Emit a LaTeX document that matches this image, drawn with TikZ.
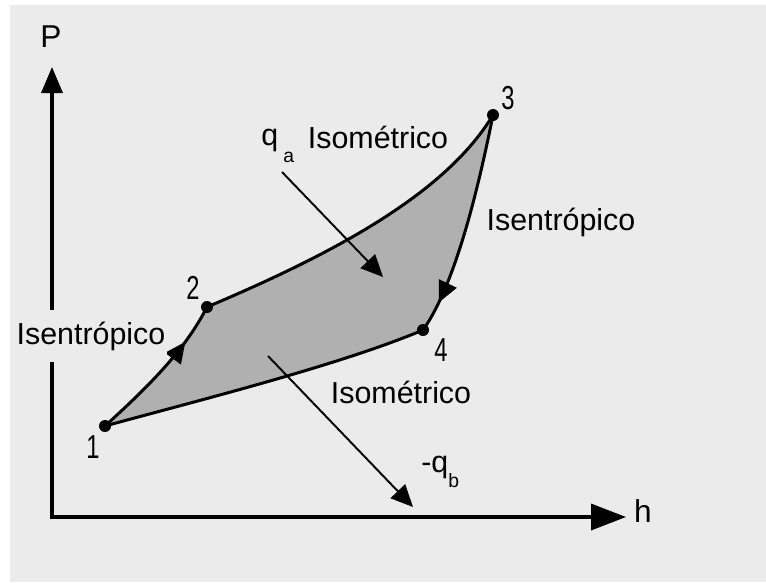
\documentclass[tikz,border=0pt]{standalone}
\usepackage{fontspec}
\setmainfont{Liberation Sans}
\usepackage{xcolor}
\usetikzlibrary{arrows.meta, decorations.markings}
\definecolor{paper}{RGB}{235,235,235}
\definecolor{cyclegray}{RGB}{176,176,176}
\newcommand{\narrownum}[1]{\scalebox{0.75}[1.05]{#1}}

\begin{document}
\begin{tikzpicture}[x=0.02cm, y=-0.02cm, font=\fontsize{17.3}{20}\selectfont,
  axis/.style={line width=2pt, line join=miter},
  cycleline/.style={line width=1.7pt, line join=round},
  heat/.style={line width=1.1pt, -{Triangle[length=0.44cm,width=0.4cm]}},
  midarrow/.style={postaction={decorate}, decoration={markings,
    mark=at position #1 with {\arrow{Triangle[length=0.42cm,width=0.38cm]}}}},
  statelbl/.style={font=\fontsize{18}{20}\selectfont}]
  \useasboundingbox (0,0) rectangle (766,582);
  \fill[paper] (10,5) rectangle (766,582);

  % axes
  \coordinate (origin) at (52,517);
  \coordinate (ptip) at (52,67);
  \coordinate (htip) at (626,517);
  \draw[axis, {Triangle[length=0.52cm,width=0.42cm]}-{Triangle[length=0.7cm,width=0.52cm]}]
    (ptip) -- (origin) -- (htip);
  \node[statelbl] (plbl) at (51,37) {P};
  \node[statelbl] (hlbl) at (643,511) {h};

  % states of the cycle
  \coordinate (p1) at (105,426);
  \coordinate (p2) at (207,307);
  \coordinate (p3) at (493,115);
  \coordinate (p4) at (423,330);

  \fill[cyclegray] (p1) .. controls (150,385) and (185,350) .. (p2)
    .. controls (330,255) and (445,195) .. (p3)
    .. controls (478,190) and (455,285) .. (p4)
    .. controls (340,365) and (200,400) .. (p1) -- cycle;
  \draw[cycleline, midarrow=0.74] (p1) .. controls (150,385) and (185,350) .. (p2);
  \draw[cycleline] (p2) .. controls (330,255) and (445,195) .. (p3);
  \draw[cycleline, midarrow=0.86] (p3) .. controls (478,190) and (455,285) .. (p4);
  \draw[cycleline] (p4) .. controls (340,365) and (200,400) .. (p1);
  \foreach \p in {p1,p2,p3,p4}
    \fill (\p) circle[radius=0.12cm];

  \node[statelbl] (n1) at (93,447) {\narrownum{1}};
  \node[statelbl] (n2) at (193,288) {\narrownum{2}};
  \node[statelbl] (n3) at (508,98) {\narrownum{3}};
  \node[statelbl] (n4) at (441,350) {\narrownum{4}};

  % processes
  \node[fill=paper, inner xsep=1pt, inner ysep=6.5pt] (isenL) at (91,336) {Isentrópico};
  \node (isenR) at (561,222) {Isentrópico};
  \node (isoT) at (378,137) {Isométrico};
  \node (isoB) at (401,392) {Isométrico};

  % heat
  \node[anchor=west, inner sep=0pt] (qa) at (261,146) {q\,\raisebox{-1.1ex}{\fontsize{11}{11}\selectfont a}};
  \node[anchor=west, inner sep=0pt] (qb) at (421,472) {-q\raisebox{-0.9ex}{\fontsize{11}{11}\selectfont b}};
  \coordinate (qain) at (282,172);
  \coordinate (qaend) at (383,277);
  \coordinate (qbout) at (268,356);
  \coordinate (qbend) at (413,507);
  \draw[heat] (qain) -- (qaend);
  \draw[heat] (qbout) -- (qbend);
\end{tikzpicture}
\end{document}
